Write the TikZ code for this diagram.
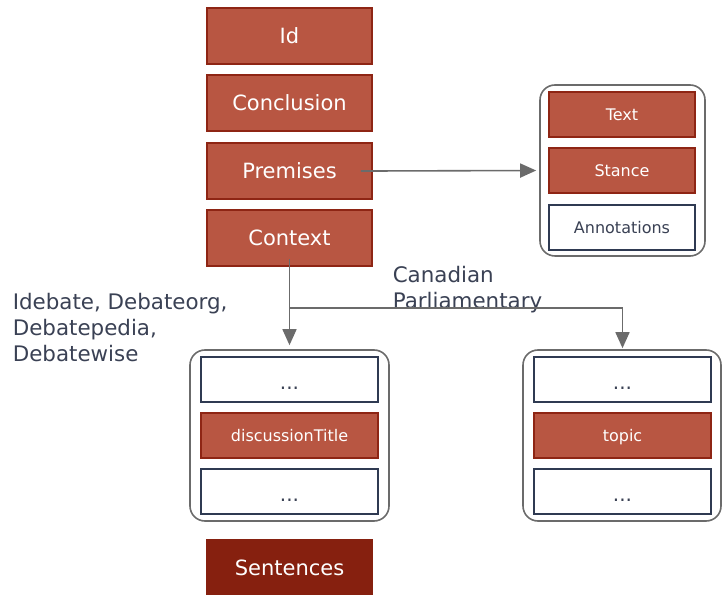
\documentclass[tikz,border=0pt]{standalone}
\usepackage{fontspec}
\usepackage{xcolor}
\usepackage{tikz}
\usetikzlibrary{arrows.meta,positioning}
\setmainfont{DejaVu Sans}

\definecolor{fieldfill}{HTML}{B85642}
\definecolor{fieldline}{HTML}{8E2514}
\definecolor{sentfill}{HTML}{86200F}
\definecolor{plainline}{HTML}{2F3A52}
\definecolor{groupline}{HTML}{6B6B6B}
\definecolor{labeltext}{HTML}{3A4154}

\begin{document}
\begin{tikzpicture}[x=1pt,y=1pt,line width=1.6pt]
        \tikzstyle{field}=[draw=fieldline,fill=fieldfill,text=white,inner sep=0pt,
            minimum width=165pt,minimum height=56pt,font=\fontsize{21}{25}\selectfont]
        \tikzstyle{sentbox}=[field,draw=sentfill,fill=sentfill]
        \tikzstyle{group}=[draw=groupline,rounded corners=15pt,inner sep=0pt]
        \tikzstyle{subfield}=[field,text height=11.7pt,text depth=0pt,
            font=\fontsize{16}{19}\selectfont]
        \tikzstyle{subplain}=[subfield,draw=plainline,fill=white,text=labeltext]
        \tikzstyle{link}=[-{Triangle[length=16pt,width=14pt]},draw=groupline]
        \tikzstyle{tag}=[text=labeltext,align=left,inner sep=0pt,
            font=\fontsize{21.4}{26}\selectfont]
        \newcommand{\gap}{\raisebox{-4pt}{\fontsize{20}{24}\selectfont ...}}

        \useasboundingbox (0,0) rectangle (722,594);

        % main fields
        \node[field] (id) at (289.5,558) {Id};
        \node[field] (concl) at (289.5,491) {Conclusion};
        \node[field] (prem) at (289.5,423) {Premises};
        \node[field] (ctx) at (289.5,356) {Context};
        \node[sentbox] (sent) at (289.5,26) {Sentences};

        % premise group
        \node[group,minimum width=165pt,minimum height=171pt] (pgroup) at (622.5,423.5) {};
        \node[subfield,minimum width=146pt,minimum height=45pt] (text) at (622,479.5) {Text};
        \node[subfield,minimum width=146pt,minimum height=45pt] (stance) at (622,423.5) {Stance};
        \node[subplain,minimum width=146pt,minimum height=45pt] (annot) at (622,366.5) {Annotations};

        % context groups
        \node[group,minimum width=199pt,minimum height=171pt] (lgroup) at (289.5,158.5) {};
        \node[subplain,minimum width=177pt,minimum height=45pt] (ldotsa) at (289.5,214.5) {\gap};
        \node[subfield,minimum width=177pt,minimum height=45pt] (dtitle) at (289.5,158.5) {discussionTitle};
        \node[subplain,minimum width=177pt,minimum height=45pt] (ldotsb) at (289.5,102.5) {\gap};

        \node[group,minimum width=198pt,minimum height=171pt] (rgroup) at (622,158.5) {};
        \node[subplain,minimum width=177pt,minimum height=45pt] (rdotsa) at (622.5,214.5) {\gap};
        \node[subfield,minimum width=177pt,minimum height=45pt] (topic) at (622.5,158.5) {topic};
        \node[subplain,minimum width=177pt,minimum height=45pt] (rdotsb) at (622.5,102.5) {\gap};

        % labels
        \node[tag,anchor=north west] (lsrc) at (12,302) {Idebate, Debateorg,\\Debatepedia,\\Debatewise};
        \node[tag,anchor=north west] (rsrc) at (392,329) {Canadian\\Parliamentary};

        % connectors
        \coordinate (split) at (289.5,286);
        \draw[link,shorten <=-12pt,shorten >=3pt] (prem.east) -- (pgroup.west);
        \draw[link,shorten <=-8pt,shorten >=4pt] (ctx.south) -- (lgroup.north);
        \draw[link,shorten >=1pt] (split) -| (rdotsa.north |- rgroup.north);
\end{tikzpicture}
\end{document}
